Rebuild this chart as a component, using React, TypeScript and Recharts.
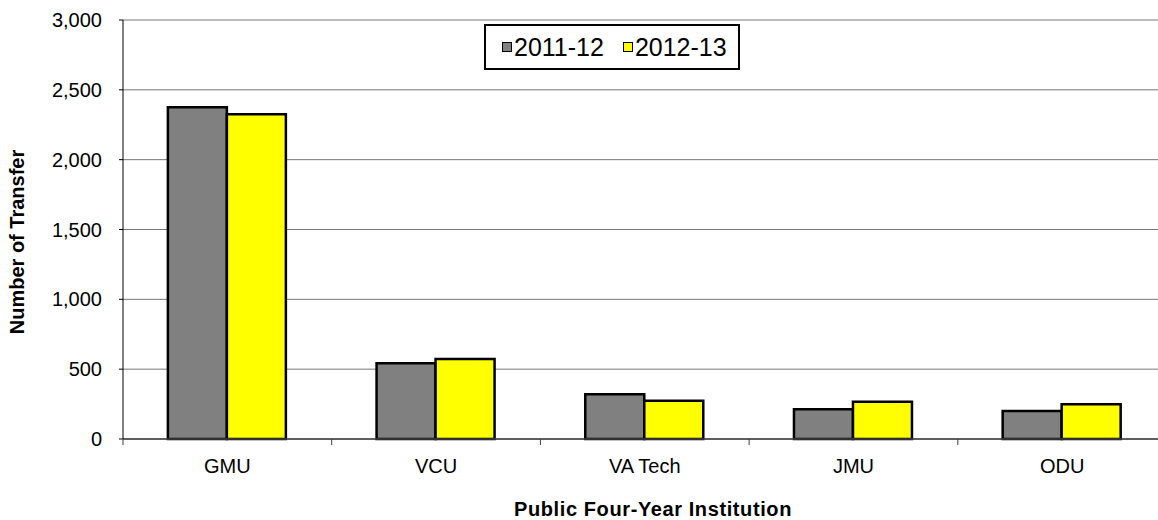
import { Bar, BarChart, CartesianGrid, XAxis, YAxis } from "recharts";

const institutions = ["GMU", "VCU", "VA Tech", "JMU", "ODU"];
const transfers2011 = [2375, 542, 320, 213, 200];
const transfers2012 = [2325, 573, 274, 267, 248];
const yTicks = [0, 500, 1000, 1500, 2000, 2500, 3000];
const seriesNames = ["2011-12", "2012-13"];

const FONT = '"Liberation Sans", Arial, sans-serif';
const GRAY = "#808080";
const YELLOW = "#ffff00";

const W = 1170;
const H = 520;
const LEFT = 123;
const RIGHT_MARGIN = 3.5;
const BAND = (W - LEFT - RIGHT_MARGIN) / institutions.length;
const TICK_SIZE = 6;
const TICK_MARGIN = 14;

const data = institutions.map((name, i) => ({
  name,
  a: transfers2011[i],
  b: transfers2012[i],
}));

function XTick(props: any) {
  const { x, y, payload, index } = props;
  const axisY = y - TICK_SIZE - TICK_MARGIN;
  const last = index === institutions.length - 1;
  return (
    <g>
      <line x1={x - BAND / 2} x2={x - BAND / 2} y1={axisY} y2={axisY + TICK_SIZE} stroke="#404040" />
      {last && (
        <line x1={x + BAND / 2} x2={x + BAND / 2} y1={axisY} y2={axisY + TICK_SIZE} stroke="#404040" />
      )}
      <text x={x} y={y} dy="0.71em" textAnchor="middle" fontSize={20} fill="#000" fontFamily={FONT}>
        {payload.value}
      </text>
    </g>
  );
}

// legend drawn as a plain overlay so it doesn't eat plot space
function LegendBox() {
  const colors = [GRAY, YELLOW];
  return (
    <div
      style={{
        position: "absolute",
        left: 484,
        top: 24,
        width: 256,
        height: 46,
        border: "2px solid #000",
        background: "#fff",
        display: "flex",
        alignItems: "center",
        fontFamily: FONT,
        fontSize: 25,
        color: "#000",
        paddingLeft: 16,
        boxSizing: "border-box",
      }}
    >
      {seriesNames.map((s, i) => (
        <div key={s} style={{ display: "flex", alignItems: "center", marginRight: i === 0 ? 19 : 0 }}>
          <span
            style={{
              width: 8,
              height: 8,
              border: "1.5px solid #000",
              background: colors[i],
              marginRight: 2,
              display: "inline-block",
            }}
          />
          <span style={{ lineHeight: "42px" }}>{s}</span>
        </div>
      ))}
    </div>
  );
}

export default function App() {
  return (
    <div
      style={{
        position: "absolute",
        left: 0,
        top: 0,
        width: 1158,
        height: 520,
        overflow: "hidden",
        background: "#fff",
      }}
    >
      <BarChart
        width={W}
        height={H}
        data={data}
        margin={{ top: 20, right: RIGHT_MARGIN, left: 0, bottom: 21 }}
        barCategoryGap="21.5%"
        barGap={0}
      >
        <CartesianGrid vertical={false} stroke="#767676" />
        <XAxis
          dataKey="name"
          height={60}
          axisLine={{ stroke: "#404040", strokeWidth: 1.5 }}
          tickLine={false}
          tickSize={TICK_SIZE}
          tickMargin={TICK_MARGIN}
          tick={<XTick />}
          interval={0}
          label={{
            content: () => (
              <text
                x={653}
                y={509}
                textAnchor="middle"
                dominantBaseline="central"
                fontSize={20}
                fontWeight="bold"
                fill="#000"
                fontFamily={FONT}
                letterSpacing={0.6}
              >
                Public Four-Year Institution
              </text>
            ),
          }}
        />
        <YAxis
          width={LEFT}
          domain={[0, 3000]}
          ticks={yTicks}
          interval={0}
          tickFormatter={(v: number) => v.toLocaleString("en-US")}
          tick={{ fontSize: 20, fill: "#000", fontFamily: FONT }}
          tickSize={4}
          tickMargin={17}
          axisLine={{ stroke: "#000" }}
          tickLine={{ stroke: "#000" }}
          label={{
            content: () => (
              <text
                x={17}
                y={242}
                transform="rotate(-90 17 242)"
                textAnchor="middle"
                dominantBaseline="central"
                fontSize={20}
                fontWeight="bold"
                fill="#000"
                fontFamily={FONT}
              >
                Number of Transfer
              </text>
            ),
          }}
        />
        <Bar dataKey="a" name={seriesNames[0]} fill={GRAY} stroke="#000" strokeWidth={2.5} isAnimationActive={false} />
        <Bar dataKey="b" name={seriesNames[1]} fill={YELLOW} stroke="#000" strokeWidth={2.5} isAnimationActive={false} />
      </BarChart>
      <LegendBox />
    </div>
  );
}
